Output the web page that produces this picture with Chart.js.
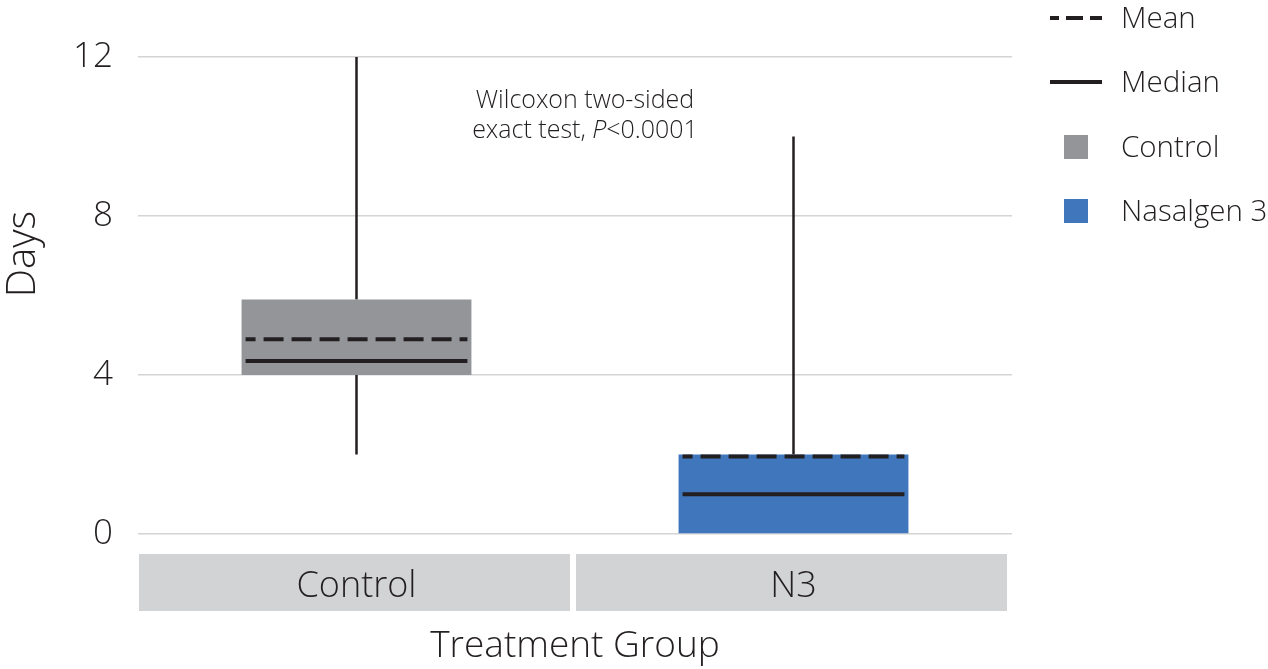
<!DOCTYPE html>
<html>
<head>
<meta charset="utf-8">
<script src="https://cdn.jsdelivr.net/npm/chart.js@4.4.0/dist/chart.umd.min.js"></script>
<style>
  html, body { margin: 0; padding: 0; background: #fff; }
  #wrap { width: 1268px; height: 669px; position: relative; }
</style>
</head>
<body>
<div id="wrap"><canvas id="boxChart"></canvas></div>
<script>
const categories = ['Control', 'N3'];
const seriesNames = ['Control', 'Nasalgen 3'];
const q1 = [4, 0];
const q3 = [5.9, 2];
const medians = [4.35, 1.0];
const means = [4.9, 1.95];
const whiskerLow = [2, 0];
const whiskerHigh = [12, 10];
const yTicks = [0, 4, 8, 12];

const FONT = '"Open Sans", "Lato", "DejaVu Sans", sans-serif';
const INK = '#231f20';
const boxColors = ['#939598', '#3f76bc'];

function hline(ctx, l, r, y) {
    ctx.beginPath();
    ctx.moveTo(l, y);
    ctx.lineTo(r, y);
    ctx.stroke();
}

// whiskers behind the boxes, median/mean on top, grey label bands under the x axis
const boxDecor = {
    id: 'boxDecor',
    beforeDraw(chart) {
        const ctx = chart.ctx;
        const x = chart.scales.x;
        const area = chart.chartArea;
        const half = (x.getPixelForValue(1) - x.getPixelForValue(0)) / 2;
        ctx.save();
        ctx.fillStyle = '#d1d3d4';
        categories.forEach((c, i) => {
            const cx = x.getPixelForValue(i);
            ctx.fillRect(cx - half + 1, area.bottom + 20, half * 2 - 6, 57);
        });
        // y axis title, sits a bit above the middle of the axis
        ctx.fillStyle = INK;
        ctx.font = '300 40px ' + FONT;
        ctx.textAlign = 'center';
        ctx.textBaseline = 'middle';
        ctx.translate(24, 254);
        ctx.rotate(-Math.PI / 2);
        ctx.fillText('Days', 0, 0);
        ctx.restore();
    },
    beforeDatasetsDraw(chart) {
        const ctx = chart.ctx;
        const y = chart.scales.y;
        const meta = chart.getDatasetMeta(0);
        ctx.save();
        ctx.strokeStyle = INK;
        ctx.lineWidth = 2.5;
        meta.data.forEach((bar, i) => {
            if (whiskerLow[i] < q1[i]) {
                ctx.beginPath();
                ctx.moveTo(bar.x, y.getPixelForValue(whiskerLow[i]));
                ctx.lineTo(bar.x, y.getPixelForValue(q1[i]));
                ctx.stroke();
            }
            if (whiskerHigh[i] > q3[i]) {
                ctx.beginPath();
                ctx.moveTo(bar.x, y.getPixelForValue(q3[i]));
                ctx.lineTo(bar.x, y.getPixelForValue(whiskerHigh[i]));
                ctx.stroke();
            }
        });
        ctx.restore();
    },
    afterDatasetsDraw(chart) {
        const ctx = chart.ctx;
        const y = chart.scales.y;
        const meta = chart.getDatasetMeta(0);
        ctx.save();
        ctx.strokeStyle = INK;
        ctx.lineWidth = 4;
        meta.data.forEach((bar, i) => {
            const l = bar.x - bar.width / 2 + 4;
            const r = bar.x + bar.width / 2 - 4;
            ctx.setLineDash([]);
            hline(ctx, l, r, y.getPixelForValue(medians[i]));
            ctx.setLineDash([20, 8]);
            ctx.lineDashOffset = 10;
            hline(ctx, l, r, y.getPixelForValue(means[i]));
        });
        ctx.restore();

        // test annotation
        const x = chart.scales.x;
        const cx = (x.getPixelForValue(0) + x.getPixelForValue(1)) / 2 + 10;
        const f = '300 25px ' + FONT;
        const fi = 'italic 300 25px ' + FONT;
        ctx.save();
        ctx.fillStyle = INK;
        ctx.textBaseline = 'middle';
        ctx.textAlign = 'center';
        ctx.font = f;
        ctx.fillText('Wilcoxon two-sided', cx, 101);
        const a = 'exact test, ', b = 'P', c = '<0.0001';
        ctx.textAlign = 'left';
        const wa = ctx.measureText(a).width;
        const wc = ctx.measureText(c).width;
        ctx.font = fi;
        const wb = ctx.measureText(b).width;
        const sx = cx - (wa + wb + wc) / 2;
        ctx.font = f;
        ctx.fillText(a, sx, 131);
        ctx.font = fi;
        ctx.fillText(b, sx + wa, 131);
        ctx.font = f;
        ctx.fillText(c, sx + wa + wb, 131);
        ctx.restore();
    },
    afterDraw(chart) {
        // legend on the right
        const ctx = chart.ctx;
        ctx.save();
        ctx.fillStyle = INK;
        ctx.strokeStyle = INK;
        ctx.font = '300 29.5px ' + FONT;
        ctx.textBaseline = 'middle';
        ctx.textAlign = 'left';
        const tx = 1121;
        ctx.lineWidth = 4;
        ctx.setLineDash([17, 7]);
        ctx.lineDashOffset = 8;
        hline(ctx, 1050, 1102, 18);
        ctx.fillText('Mean', tx, 20);
        ctx.setLineDash([]);
        hline(ctx, 1050, 1102, 82);
        ctx.fillText('Median', tx, 84);
        const rows = [147, 211];
        seriesNames.forEach((name, i) => {
            ctx.fillStyle = boxColors[i];
            ctx.fillRect(1064, rows[i] - 12, 24, 24);
            ctx.fillStyle = INK;
            ctx.fillText(name, tx, rows[i] + 2);
        });
        ctx.restore();
    }
};

const ctx = document.getElementById('boxChart').getContext('2d');
new Chart(ctx, {
    type: 'bar',
    data: {
        labels: categories,
        datasets: [{
            label: 'IQR',
            data: q1.map((v, i) => [v, q3[i]]),
            backgroundColor: boxColors,
            borderWidth: 0,
            barPercentage: 0.526,
            categoryPercentage: 1
        }]
    },
    options: {
        responsive: true,
        maintainAspectRatio: false,
        animation: false,
        layout: { padding: { top: 57, right: 256, left: 0, bottom: 0 } },
        plugins: {
            legend: { display: false },
            tooltip: { enabled: false }
        },
        scales: {
            x: {
                grid: { display: false },
                border: { display: false },
                ticks: {
                    color: INK,
                    padding: 23,
                    font: { family: FONT, size: 36, weight: '300' }
                },
                title: {
                    display: true,
                    text: 'Treatment Group',
                    color: INK,
                    padding: { top: 0, bottom: 0 },
                    font: { family: FONT, size: 37, weight: '300' }
                },
                afterFit: s => { s.height = 135; }
            },
            y: {
                min: 0,
                max: 12,
                afterBuildTicks: s => { s.ticks = yTicks.map(v => ({ value: v })); },
                grid: { color: '#d4d4d4', lineWidth: 1.5, drawTicks: false },
                border: { display: false },
                ticks: {
                    color: INK,
                    padding: 25,
                    font: { family: FONT, size: 35, weight: '300' }
                },
                afterFit: s => { s.width = 138; }
            }
        }
    },
    plugins: [boxDecor]
});
</script>
</body>
</html>
